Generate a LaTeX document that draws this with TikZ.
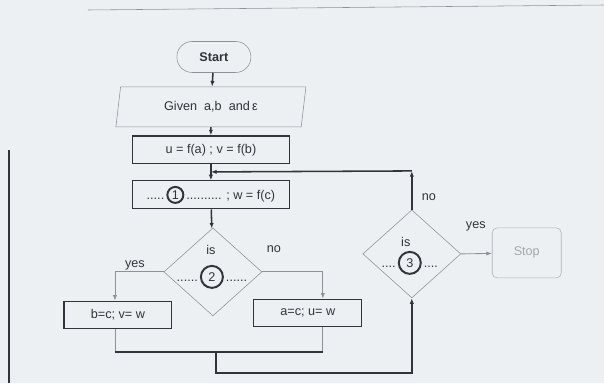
\documentclass[tikz,border=0pt]{standalone}
\usepackage{fontspec}
\setmainfont{Liberation Sans}
\usetikzlibrary{arrows.meta, shapes.geometric, calc}
\definecolor{paper}{rgb}{0.93,0.94,0.95}
\definecolor{ink}{rgb}{0.2,0.2,0.23}
\definecolor{pale}{rgb}{0.56,0.57,0.6}
\newcommand{\numring}[2][0.4cm]{\tikz[baseline=(r.base)]\node[circle,draw=ink,line width=1.4pt,inner sep=0pt,minimum size=#1,text=ink](r){#2};}
\tikzset{
	startbox/.style={draw=pale, rounded corners=0.38cm, minimum width=1.85cm, minimum height=0.775cm},
	iobox/.style={draw=pale, trapezium, trapezium left angle=77, trapezium right angle=103, trapezium stretches body, minimum width=4.75cm, minimum height=1.0cm},
	box/.style={draw=ink, line width=0.8pt, minimum width=3.925cm, minimum height=0.7cm},
	sidebox/.style={draw=ink, line width=0.8pt, minimum width=2.7cm, minimum height=0.68cm},
	decision/.style={draw=pale, diamond, inner sep=0pt, minimum width=2.45cm, minimum height=2.2cm},
	stopbox/.style={draw=pale!70, rounded corners=0.12cm, minimum width=1.725cm, minimum height=1.25cm, text=pale!80},
	main/.style={draw=ink, line width=1.1pt},
	thin/.style={draw=pale, line width=0.6pt},
	tip/.style={-{Latex[length=4pt,width=3pt]}}
}

\begin{document}
\begin{tikzpicture}[x=0.025cm, y=-0.025cm, every node/.style={font=\fontsize{9}{11}\selectfont, text=ink}]
	\fill[paper] (0,0) rectangle (604,383);
	\draw[pale] (88,10) -- (604,5);
	\draw[ink, line width=0.8pt] (9,150) -- (9,383);
	\node[startbox] (st) at (214,57) {\textbf{Start}};
	\node[iobox] (gv) at (211,107) {Given~~a,b~~and\,ε};
	\node[box] (uv) at (211,150) {u = f(a) ; v = f(b)};
	\node[box] (c1) at (211,195) {.....\,\numring{1}\,.......... ; w = f(c)};
	\node[decision] (d2) at (213,272) {};
	\node (is2) at (211,250) {is};
	\node (q2) at (212,277) {......\,\numring[0.55cm]{2}\,......};
	\node[sidebox] (bc) at (118,315) {b=c; v= w};
	\node[sidebox] (ac) at (308,313) {a=c; u= w};
	\node[decision] (d3) at (412,254) {};
	\node (is3) at (406,242) {is};
	\node (q3) at (410,263) {....\,\numring[0.55cm]{3}\,....};
	\node[stopbox] (sp) at (527,253) {Stop};
	\node (no2) at (274,249) {no};
	\node (ye2) at (135,266) {yes};
	\node (no3) at (429,197) {no};
	\node (ye3) at (476,227) {yes};
	\coordinate (j1) at (211,172);
	\coordinate (j2) at (412,171);
	\coordinate (m1) at (115,352);
	\coordinate (m2) at (323,352);
	\coordinate (m3) at (216,352);
	\coordinate (m4) at (216,373);
	\draw[main, tip] (st) -- (gv);
	\draw[main, tip] (gv) -- (uv);
	\draw[main, tip] (uv) -- (c1);
	\draw[main, tip] (c1) -- (d2);
	\draw[thin, tip] (d2.west) -| ($(bc.north)+(-3,0)$);
	\draw[thin, tip] (d2.east) -| ($(ac.north)+(15,0)$);
	\draw[thin] ($(bc.south)+(-3,0)$) -- (m1);
	\draw[thin] ($(ac.south)+(15,0)$) -- (m2);
	\draw[main] (m1) -- (m2);
	\draw[main, tip] (m3) -- (m4) -| (d3);
	\draw[thin, tip] (d3.east) -- (sp);
	\draw[main, tip] (d3) -- (j2);
	\draw[main, tip] (j2) -- (j1);
\end{tikzpicture}
\end{document}
